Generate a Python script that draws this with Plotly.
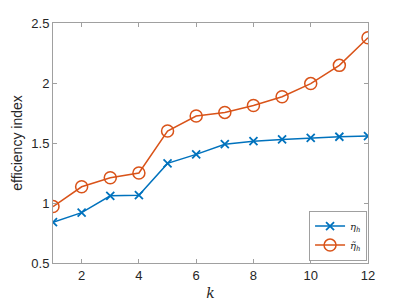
import plotly.graph_objects as go

k = list(range(1, 13))
eta_h = [0.84, 0.92, 1.06, 1.065, 1.33, 1.405, 1.49, 1.515, 1.53, 1.543, 1.552, 1.558]
eta_tilde_h = [0.97, 1.135, 1.21, 1.25, 1.60, 1.725, 1.755, 1.812, 1.885, 1.995, 2.147, 2.377]
y_ticks = [0.5, 1, 1.5, 2, 2.5]
x_ticks = [2, 4, 6, 8, 10, 12]

blue = "#0072BD"
red = "#D95319"

fig = go.Figure()
fig.add_trace(go.Scatter(
    x=k, y=eta_h, mode="lines+markers", name="<i>η<sub>h</sub></i>",
    line=dict(color=blue, width=1.5),
    marker=dict(symbol="x-thin-open", size=8, line=dict(color=blue, width=1.8), color=blue),
))
fig.add_trace(go.Scatter(
    x=k, y=eta_tilde_h, mode="lines+markers", name="<i>η\u0303<sub>h</sub></i>",
    line=dict(color=red, width=1.5),
    marker=dict(symbol="circle-open", size=12, line=dict(color=red, width=1.5), color=red),
))

axis_common = dict(
    showgrid=False, zeroline=False, showline=True, linecolor="#A0A0A0", linewidth=1,
    mirror="ticks", ticks="inside", ticklen=4, tickcolor="#A0A0A0", automargin=False,
    tickfont=dict(family="Liberation Sans, Arial, sans-serif", size=13, color="#262626"),
)
fig.update_xaxes(range=[1, 12], tickvals=x_ticks,
                 title=dict(text="<i>k</i>", font=dict(family="DejaVu Serif, serif", size=14, color="#262626"), standoff=6),
                 **axis_common)
fig.update_yaxes(range=[0.5, 2.5], tickvals=y_ticks,
                 title=dict(text="efficiency index", font=dict(family="Liberation Sans, Arial, sans-serif", size=14, color="#262626"), standoff=5),
                 **axis_common)

# the page body adds an 8px offset; compensate so the plot area matches the reference
fig.update_layout(
    width=399, height=297,
    margin=dict(l=45, r=39, t=15, b=42),
    plot_bgcolor="white", paper_bgcolor="white",
    showlegend=True,
    legend=dict(x=0.997, y=0.01, xanchor="right", yanchor="bottom",
                bordercolor="#A0A0A0", borderwidth=1, bgcolor="white",
                font=dict(family="DejaVu Serif, serif", size=10, color="#262626"),
                itemwidth=30, tracegroupgap=0),
)

fig.write_html("out.html")
